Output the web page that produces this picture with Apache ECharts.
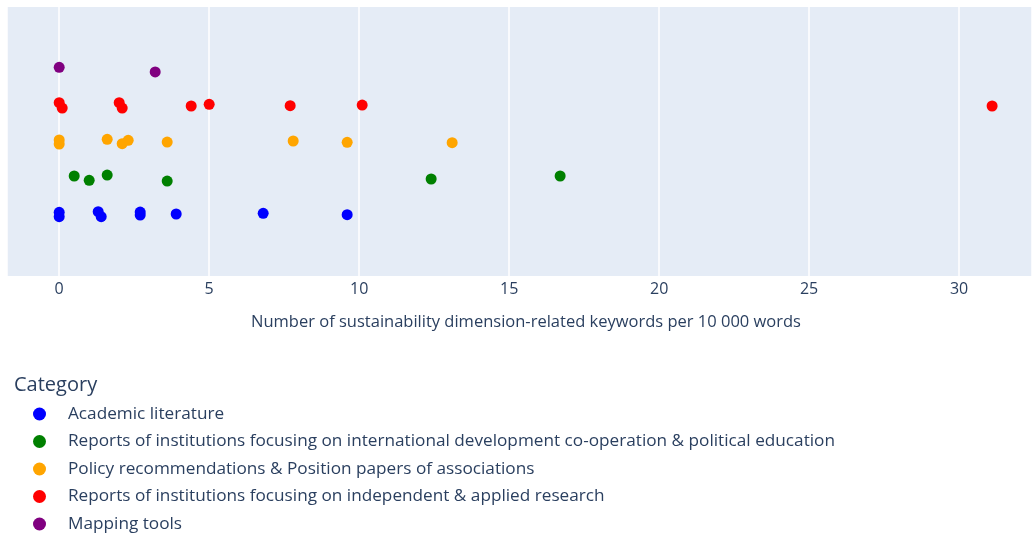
<!DOCTYPE html>
<html>
<head>
<meta charset="utf-8">
<script src="https://cdn.jsdelivr.net/npm/echarts@6/dist/echarts.min.js"></script>
<style>
html,body{margin:0;padding:0;background:#fff;}
#chart{width:1033px;height:535px;}
</style>
</head>
<body>
<div id="chart"></div>
<script>
// Category names (legend order, bottom row first)
const categories = [
  "Academic literature",
  "Reports of institutions focusing on international development co-operation & political education",
  "Policy recommendations & Position papers of associations",
  "Reports of institutions focusing on independent & applied research",
  "Mapping tools"
];
const colors = ["#0000ff", "#008000", "#ffa500", "#ff0000", "#800080"];

// Keywords per 10 000 words (x values)
const academicX = [0, 0, 1.3, 1.4, 2.7, 2.7, 3.9, 6.8, 9.6];
const developmentX = [0.5, 1.0, 1.6, 3.6, 12.4, 16.7];
const policyX = [0, 0, 1.6, 2.1, 2.3, 3.6, 7.8, 9.6, 13.1];
const researchX = [0, 0.1, 2.0, 2.1, 4.4, 5.0, 7.7, 10.1, 31.1];
const mappingX = [0, 3.2];

// Strip jitter offsets (in row units)
const academicJitter = [0.047, -0.075, 0.064, -0.075, 0.055, -0.028, 0, 0.019, -0.019];
const developmentJitter = [0.053, -0.066, 0.08, -0.086, -0.03, 0.053];
const policyJitter = [0.05, -0.061, 0.069, -0.053, 0.042, -0.006, 0.022, -0.014, -0.025];
const researchJitter = [0.083, -0.064, 0.083, -0.064, -0.008, 0.039, 0, 0.019, -0.008];
const mappingJitter = [0.064, -0.066];

const xTicks = [0, 5, 10, 15, 20, 25, 30];

const xs = [academicX, developmentX, policyX, researchX, mappingX];
const js = [academicJitter, developmentJitter, policyJitter, researchJitter, mappingJitter];

const FONT = "'Open Sans', 'Noto Sans', sans-serif";
const TXT = "#2a3f5f";

const series = categories.map((name, i) => ({
  name: name,
  type: 'scatter',
  symbol: 'circle',
  symbolSize: 11,
  itemStyle: { color: colors[i], opacity: 1 },
  emphasis: { disabled: true },
  data: xs[i].map((x, k) => [x, i + js[i][k]])
}));

const chart = echarts.init(document.getElementById('chart'), null, { renderer: 'canvas' });
chart.setOption({
  animation: false,
  backgroundColor: '#ffffff',
  textStyle: { fontFamily: FONT },
  title: {
    text: 'Category',
    left: 14,
    top: 375,
    padding: 0,
    textStyle: { fontFamily: FONT, fontSize: 20, fontWeight: 'normal', color: TXT }
  },
  legend: {
    orient: 'vertical',
    left: 33,
    top: 404,
    padding: 0,
    itemWidth: 13,
    itemHeight: 13,
    itemGap: 7.5,
    icon: 'circle',
    selectedMode: false,
    data: categories,
    textStyle: { fontFamily: FONT, fontSize: 17.2, color: TXT, lineHeight: 20, padding: [0, 0, 0, 17] }
  },
  grid: {
    left: 7,
    top: 7,
    right: 1,
    bottom: 259,
    containLabel: false,
    show: true,
    backgroundColor: '#E5ECF6',
    borderWidth: 0
  },
  xAxis: {
    type: 'value',
    min: -1.74,
    max: 32.43,
    minInterval: 5,
    maxInterval: 5,
    name: 'Number of sustainability dimension-related keywords per 10 000 words',
    nameLocation: 'middle',
    nameGap: 38,
    nameTextStyle: { fontFamily: FONT, fontSize: 16.5, color: TXT, padding: [0, 0, 0, 13] },
    axisLine: { show: false },
    axisTick: { show: false },
    axisLabel: {
      fontFamily: FONT, fontSize: 16, color: TXT, margin: 5,
      showMinLabel: false, showMaxLabel: false,
      formatter: v => (xTicks.indexOf(v) >= 0 ? String(v) : '')
    },
    splitLine: { show: true, lineStyle: { color: '#ffffff', width: 1.5 } }
  },
  yAxis: {
    type: 'value',
    min: -1.717,
    max: 5.734,
    show: false,
    splitLine: { show: false }
  },
  series: series
});
</script>
</body>
</html>
